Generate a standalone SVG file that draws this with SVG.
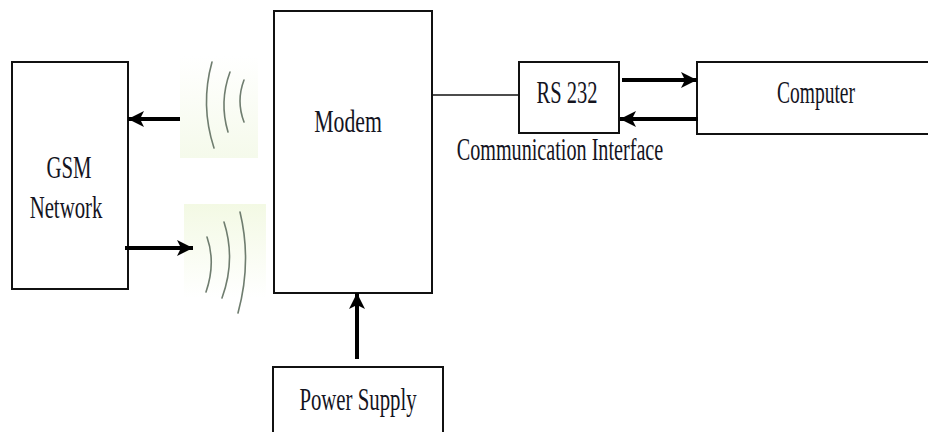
<svg xmlns="http://www.w3.org/2000/svg" width="928" height="432" viewBox="0 0 928 432">
<style>
.box{fill:#fff;stroke:#111;stroke-width:2}
.t{font-family:"Liberation Serif","Times New Roman",serif;font-size:32px;fill:#14141e;text-anchor:middle}
.arr{stroke:#000;stroke-width:4;fill:none}
.wave{stroke:#6f7d6f;stroke-width:1.6;fill:none;stroke-linecap:round}
.thin{stroke:#111;stroke-width:1.5;fill:none}
</style>
<defs>
<marker id="ah" markerUnits="userSpaceOnUse" markerWidth="17" markerHeight="18" refX="16" refY="9" orient="auto">
<path d="M0,1 L16,9 L0,17 L4,9 Z" fill="#000"/>
</marker>
<linearGradient id="gTop" x1="0" y1="0" x2="0" y2="1">
<stop offset="0" stop-color="#ffffff"/>
<stop offset="1" stop-color="#f5faeb"/>
</linearGradient>
<linearGradient id="gBot" x1="0" y1="0" x2="0" y2="1">
<stop offset="0" stop-color="#f3f9e4"/>
<stop offset="1" stop-color="#ffffff"/>
</linearGradient>
</defs>
<g id="waves-up">
<rect x="180" y="56" width="78" height="102" fill="url(#gTop)"/>
<path class="wave" d="M212,62 Q200,105 214,148"/>
<path class="wave" d="M230,72 Q219,102 228,132"/>
<path class="wave" d="M244,80 Q236,101 244,122"/>
</g>
<g id="waves-down">
<rect x="184" y="204" width="82" height="94" fill="url(#gBot)"/>
<path class="wave" d="M207,237 Q216,263 206,292"/>
<path class="wave" d="M224,222 Q236,260 222,298"/>
<path class="wave" d="M240,212 Q252,262 238,313"/>
</g>
<g id="gsm">
<rect class="box" x="12" y="62" width="116" height="227"/>
<text class="t" transform="translate(69,178) scale(0.65,1)">GSM</text>
<text class="t" transform="translate(66,218) scale(0.65,1)">Network</text>
</g>
<g id="modem">
<rect class="box" x="274" y="11" width="158" height="282"/>
<text class="t" transform="translate(348,132) scale(0.68,1)">Modem</text>
</g>
<g id="rs232">
<rect class="box" x="519" y="62" width="100" height="71"/>
<text class="t" transform="translate(567,103) scale(0.64,1)">RS 232</text>
<text class="t" transform="translate(560,160) scale(0.63,1)">Communication Interface</text>
</g>
<g id="computer">
<rect class="box" x="697" y="62" width="240" height="72"/>
<text class="t" transform="translate(816,103) scale(0.61,1)">Computer</text>
</g>
<g id="power">
<rect class="box" x="273" y="367" width="170" height="80"/>
<text class="t" transform="translate(358,410) scale(0.65,1)">Power Supply</text>
</g>
<g id="connectors">
<line class="arr" x1="180" y1="119" x2="128" y2="119" marker-end="url(#ah)"/>
<line class="arr" x1="125" y1="248" x2="193" y2="248" marker-end="url(#ah)"/>
<line class="thin" x1="432" y1="95" x2="519" y2="95"/>
<line class="arr" x1="622" y1="80" x2="697" y2="80" marker-end="url(#ah)"/>
<line class="arr" x1="698" y1="119" x2="620" y2="119" marker-end="url(#ah)"/>
<line class="arr" x1="357" y1="359" x2="357" y2="293" marker-end="url(#ah)"/>
</g>
</svg>
